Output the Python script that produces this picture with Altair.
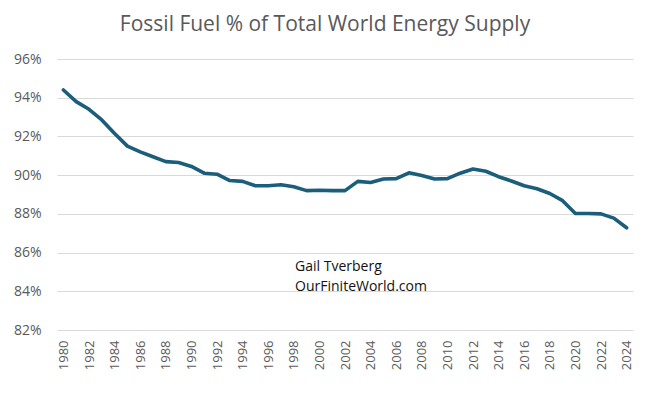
import altair as alt
import pandas as pd

years = list(range(1980, 2025))
share = [94.4, 93.8, 93.4, 92.85, 92.15, 91.5, 91.2, 90.95, 90.7, 90.65,
         90.45, 90.1, 90.05, 89.72, 89.68, 89.45, 89.45, 89.5, 89.4, 89.2,
         89.22, 89.2, 89.2, 89.68, 89.62, 89.8, 89.82, 90.12, 89.98, 89.8,
         89.82, 90.1, 90.32, 90.2, 89.92, 89.7, 89.45, 89.3, 89.05, 88.68,
         88.02, 88.02, 88.0, 87.78, 87.28]

note_text = ["Gail Tverberg", "OurFiniteWorld.com"]
note_year = [1998.1, 1998.1]
note_val = [85.26, 84.22]

tick_years = list(range(1980, 2025, 2))
tick_vals = [82, 84, 86, 88, 90, 92, 94, 96]

df = pd.DataFrame({"year": years, "share": share})
notes = pd.DataFrame({"text": note_text, "year": note_year, "share": note_val})

xscale = alt.Scale(domain=[1979.5, 2024.5], nice=False, zero=False)
yscale = alt.Scale(domain=[82, 96], nice=False, zero=False)

xaxis = alt.Axis(values=tick_years, labelAngle=270, labelAlign="right", labelBaseline="middle",
                 labelPadding=10, ticks=False, domain=False, grid=False, title=None,
                 labelOverlap=False, labelBound=False, labelFlush=False,
                 format="d", labelFontSize=13, labelColor="#595959", labelFont="Open Sans")
yaxis = alt.Axis(values=tick_vals, labelExpr="datum.value + '%'", ticks=False, domain=False,
                 labelOverlap=False, labelFlush=False,
                 grid=True, gridColor="#D9D9D9", gridWidth=1.2, title=None, labelPadding=16,
                 labelFontSize=14, labelColor="#595959", labelFont="Open Sans")

line = alt.Chart(df).mark_line(color="#1B5E7B", strokeWidth=3.6, strokeJoin="round", strokeCap="round").encode(
    x=alt.X("year:Q", scale=xscale, axis=xaxis),
    y=alt.Y("share:Q", scale=yscale, axis=yaxis),
)

text = alt.Chart(notes).mark_text(align="left", baseline="middle", fontSize=14, font="Open Sans", color="#111111").encode(
    x=alt.X("year:Q", scale=xscale, axis=xaxis),
    y=alt.Y("share:Q", scale=yscale, axis=yaxis),
    text="text:N",
)

chart = (line + text).properties(
    width=576, height=271,
    title=alt.TitleParams("Fossil Fuel % of Total World Energy Supply", fontSize=21, font="Open Sans",
                          fontWeight="normal", color="#595959", anchor="middle", dx=-20, offset=17),
    autosize=alt.AutoSizeParams(type="pad"),
    padding={"left": 5, "top": 6, "right": 10, "bottom": 10},
    background="white",
).configure_view(stroke=None, strokeWidth=0).configure_axis(labelOverlap=False)

chart.save("out.html", embed_options={"renderer": "svg", "actions": False})
